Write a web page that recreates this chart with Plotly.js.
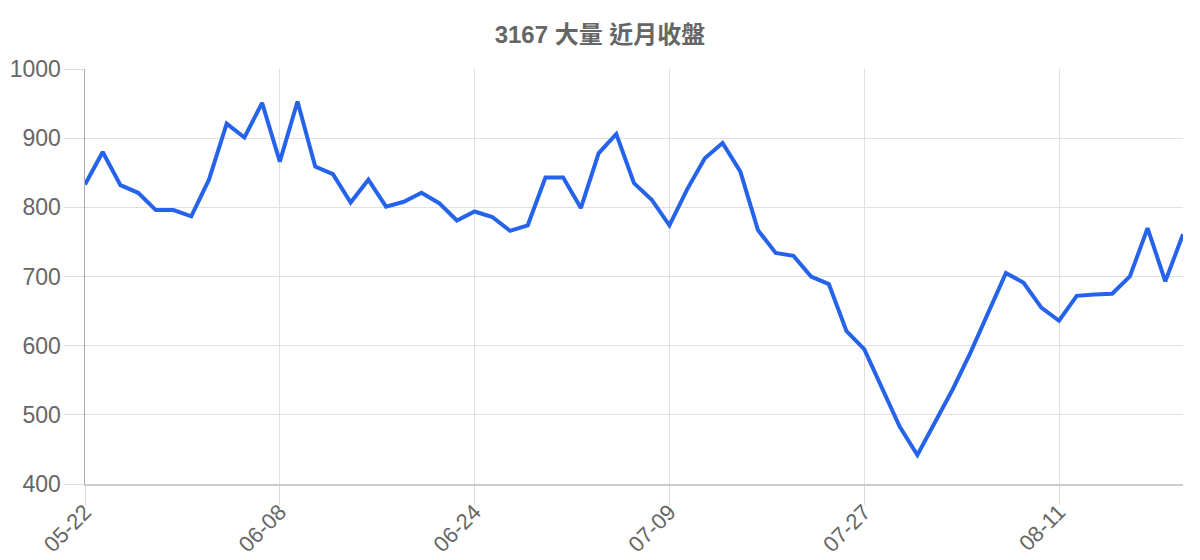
<!DOCTYPE html>
<html>
<head>
<meta charset="utf-8">
<script src="https://cdn.plot.ly/plotly-3.0.1.min.js"></script>
<style>
  html, body { margin: 0; padding: 0; background: white; }
  #chart { width: 1200px; height: 560px; }
</style>
</head>
<body>
<div id="chart"></div>
<script>
// 3167 大量 近月收盤 - daily closes over about three months

const dates = [
  '05-22', '05-23', '05-24', '05-27', '05-28', '05-29', '05-30', '05-31', '06-03', '06-04',
  '06-05', '06-08', '06-09', '06-10', '06-11', '06-12', '06-15', '06-16', '06-17', '06-18',
  '06-19', '06-22', '06-24', '06-25', '06-26', '06-29', '06-30', '07-01', '07-02', '07-03',
  '07-06', '07-07', '07-08', '07-09', '07-10', '07-13', '07-14', '07-15', '07-16', '07-17',
  '07-20', '07-21', '07-22', '07-23', '07-27', '07-28', '07-29', '07-30', '07-31', '08-03',
  '08-04', '08-05', '08-06', '08-07', '08-10', '08-11', '08-12', '08-13', '08-14', '08-17',
  '08-18', '08-19', '08-20'
];

const closes = [
  833, 880, 832, 821, 796, 796, 787, 840, 921, 901,
  951, 866, 953, 859, 848, 807, 840, 801, 808, 821,
  806, 781, 794, 786, 766, 774, 843, 843, 799, 878,
  906, 835, 811, 774, 826, 871, 893, 852, 767, 734,
  730, 700, 689, 621, 595, 538, 483, 442, 489, 537,
  590, 648, 705, 691, 655, 636, 672, 674, 675, 700,
  770, 693, 761
];

// dates shown on the x axis
const tickDates = ['05-22', '06-08', '06-24', '07-09', '07-27', '08-11'];

const yTicks = [400, 500, 600, 700, 800, 900, 1000];

const trace = {
  x: dates,
  y: closes,
  type: 'scatter',
  mode: 'lines',
  line: { color: '#2563eb', width: 4 },
  hovertemplate: '%{x}<br>%{y}<extra></extra>'
};

const layout = {
  width: 1200,
  height: 560,
  font: { family: 'Liberation Sans, Arial, sans-serif', color: '#666' },
  title: {
    text: '<b>3167 大量 近月收盤</b>',
    font: { size: 24, color: '#666', family: 'Liberation Sans, Noto Sans CJK TC, sans-serif' },
    x: 0.5,
    xanchor: 'center',
    y: 1 - 35 / 560,
    yanchor: 'middle',
    yref: 'container'
  },
  margin: { l: 85, r: 17, t: 69, b: 76 },
  paper_bgcolor: 'white',
  plot_bgcolor: 'white',
  showlegend: false,
  xaxis: {
    type: 'category',
    range: [0, dates.length - 1],
    tickmode: 'array',
    tickvals: tickDates,
    ticktext: tickDates,
    tickangle: -45,
    tickfont: { size: 22, color: '#666' },
    ticks: 'outside',
    ticklen: 19,
    tickcolor: '#dddddd',
    ticklabelstandoff: -14,
    showgrid: true,
    gridcolor: '#e0e0e0',
    gridwidth: 1,
    showline: true,
    linecolor: '#cccccc',
    linewidth: 1.5,
    zeroline: false,
    fixedrange: true
  },
  yaxis: {
    range: [400, 1000],
    tickmode: 'array',
    tickvals: yTicks,
    ticktext: yTicks.map(String),
    tickfont: { size: 23, color: '#666' },
    ticks: 'outside',
    ticklen: 20,
    tickcolor: '#dddddd',
    ticklabelstandoff: -2,
    showgrid: true,
    gridcolor: '#e0e0e0',
    gridwidth: 1,
    showline: true,
    linecolor: '#aaaaaa',
    linewidth: 1.5,
    zeroline: false,
    fixedrange: true
  }
};

Plotly.newPlot('chart', [trace], layout, { displayModeBar: false, staticPlot: true });
</script>
</body>
</html>
